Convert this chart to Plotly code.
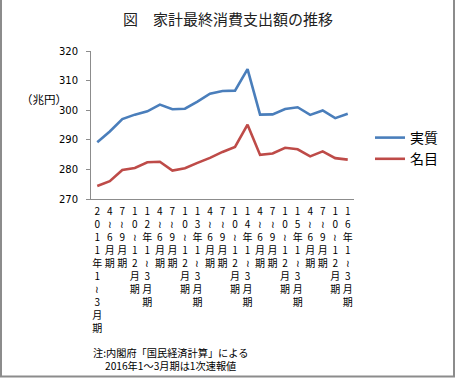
import plotly.graph_objects as go

W, H = 456, 378
# plot area pixel bounds
PL, PR, PT, PB = 91, 354, 51, 199

categories = [
    "2011年1～3月期", "4～6月期", "7～9月期", "10～12月期",
    "12年1～3月期", "4～6月期", "7～9月期", "10～12月期",
    "13年1～3月期", "4～6月期", "7～9月期", "10～12月期",
    "14年1～3月期", "4～6月期", "7～9月期", "10～12月期",
    "15年1～3月期", "4～6月期", "7～9月期", "10～12月期",
    "16年1～3月期",
]
real = [289.2, 292.8, 297.0, 298.5, 299.6, 301.9, 300.3, 300.5, 302.9, 305.6,
        306.5, 306.6, 313.9, 298.5, 298.6, 300.4, 301.0, 298.4, 299.9, 297.3, 298.8]
nominal = [274.4, 276.0, 279.8, 280.5, 282.4, 282.6, 279.6, 280.4, 282.2, 283.9,
           285.9, 287.6, 295.1, 284.9, 285.4, 287.3, 286.8, 284.4, 286.1, 283.8, 283.3]
yticks = [270, 280, 290, 300, 310, 320]


def vertical(label):
    return "<br>".join("≀" if ch == "～" else ch for ch in label)


xidx = list(range(len(categories)))
ticktext = [vertical(c) for c in categories]

JP = "Noto Sans CJK JP"

fig = go.Figure()
fig.add_trace(go.Scatter(x=xidx, y=real, mode="lines", name="実質",
                         line=dict(color="#4A7EBB", width=2.6)))
fig.add_trace(go.Scatter(x=xidx, y=nominal, mode="lines", name="名目",
                         line=dict(color="#BE4B48", width=2.6)))


def px_x(px):
    return (px - PL) / (PR - PL)


def px_y(py):
    return (PB - py) / (PB - PT)


fig.update_layout(
    width=W, height=H,
    margin=dict(l=PL, r=W - PR, t=PT, b=H - PB, pad=0, autoexpand=False),
    paper_bgcolor="white", plot_bgcolor="white",
    font=dict(family=JP, color="#000000"),
    title=dict(text="図　家計最終消費支出額の推移", x=0.5, xanchor="center",
               xref="container", yref="container", y=1 - 20 / H, yanchor="middle",
               font=dict(size=15, family=JP, color="#222222")),
    xaxis=dict(
        range=[-0.5, len(categories) - 0.5], automargin=False,
        tickmode="array", tickvals=xidx, ticktext=ticktext, tickangle=0,
        showgrid=False, zeroline=False, showline=True, linecolor="#8c8c8c", linewidth=1,
        ticks="", tickfont=dict(size=10, family=JP, color="#000000"),
        ticklabelstandoff=3,
    ),
    yaxis=dict(
        range=[270, 320], tickmode="array", tickvals=yticks, automargin=False,
        showgrid=False, zeroline=False, showline=True, linecolor="#8c8c8c", linewidth=1,
        ticks="outside", ticklen=4, tickcolor="#8c8c8c",
        tickfont=dict(size=10, family="DejaVu Sans", color="#000000"),
        ticklabelstandoff=6,
    ),
    legend=dict(
        x=px_x(370), y=px_y(122), xanchor="left", yanchor="top",
        xref="paper", yref="paper", tracegroupgap=0,
        font=dict(size=14, family=JP, color="#000000"),
        bgcolor="rgba(0,0,0,0)", borderwidth=0,
    ),
    showlegend=True,
)

fig.add_annotation(text="（兆円）", x=px_x(19), y=px_y(99), xref="paper", yref="paper",
                   xanchor="left", yanchor="middle", showarrow=False,
                   font=dict(size=11.5, family=JP, color="#000000"))
fig.add_annotation(text="注:内閣府「国民経済計算」による", x=px_x(91), y=px_y(352),
                   xref="paper", yref="paper", xanchor="left", yanchor="middle",
                   showarrow=False, font=dict(size=10.2, family=JP, color="#000000"))
fig.add_annotation(text="2016年1～3月期は1次速報値", x=px_x(103), y=px_y(365),
                   xref="paper", yref="paper", xanchor="left", yanchor="middle",
                   showarrow=False, font=dict(size=10.2, family=JP, color="#000000"))

fig.add_shape(type="rect", xref="paper", yref="paper",
              x0=px_x(1), x1=px_x(454), y0=px_y(376.5), y1=px_y(-2),
              line=dict(color="#8c8c8c", width=2), fillcolor="rgba(0,0,0,0)", layer="below")

fig.write_html("out.html", config={"displayModeBar": False},
               post_script="document.body.style.margin='0';document.body.style.overflow='hidden';")
